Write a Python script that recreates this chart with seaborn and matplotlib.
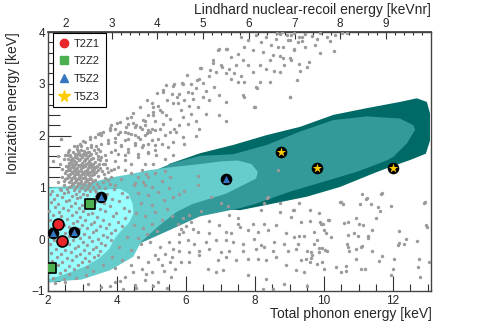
import numpy as np
import pandas as pd
import matplotlib
matplotlib.use("Agg")
import matplotlib.pyplot as plt
import seaborn as sns
from matplotlib.ticker import MultipleLocator
from matplotlib.lines import Line2D

# ---------------- values ----------------
# (total phonon energy [keV], ionization energy [keV])

# signal-model bands, outermost first
band_dark = [(5.5, 1.45), (6.41, 1.66), (7.37, 1.82), (8.34, 2.01), (9.31, 2.17), (10.27, 2.4),
             (11.24, 2.53), (12.2, 2.65), (12.69, 2.72), (12.98, 2.65), (13.07, 2.43), (13.07, 1.9),
             (12.95, 1.65), (12.5, 1.53), (11.82, 1.37), (11.43, 1.27), (10.47, 1.01), (9.5, 0.82),
             (8.54, 0.69), (7.57, 0.56), (6.5, 0.6), (5.5, 1.0)]
band_mid = [(4.67, -0.08), (5.44, 0.15), (6.4, 0.44), (7.57, 0.6), (8.05, 0.69), (9.02, 0.92),
            (9.99, 1.11), (10.95, 1.30), (11.82, 1.52), (12.01, 1.59), (12.4, 1.85), (12.64, 2.11),
            (12.59, 2.2), (12.2, 2.33), (11.24, 2.37), (10.27, 2.3), (9.31, 2.08), (8.34, 1.82),
            (7.37, 1.64), (6.41, 1.61), (5.6, 1.47), (5.0, 1.3), (4.6, 1.0)]
band_light = [(2.0, 1.0), (2.6, 1.02), (3.2, 1.08), (3.74, 1.18), (4.42, 1.26), (4.9, 1.33),
              (5.44, 1.38), (6.4, 1.45), (7.0, 1.5), (7.5, 1.52), (7.9, 1.45), (8.08, 1.3),
              (8.03, 1.17), (7.64, 1.04), (7.16, 0.88), (6.68, 0.78), (6.19, 0.68), (5.71, 0.52),
              (5.2, 0.25), (4.7, -0.05), (4.47, -0.34), (3.8, -0.6), (2.97, -0.78), (2.54, -0.8),
              (2.0, -0.84)]
band_core = [(2.0, 0.98), (2.73, 0.97), (3.22, 0.93), (3.7, 0.96), (4.09, 0.97), (4.33, 0.88),
             (4.45, 0.69), (4.48, 0.5), (4.35, 0.32), (4.1, 0.15), (3.94, 0.02), (3.78, -0.18),
             (3.5, -0.36), (3.1, -0.52), (2.6, -0.65), (2.2, -0.74), (2.0, -0.78)]

# electron-recoil band events
er_band = [(5.43, 2.97), (5.65, 3.00), (5.33, 2.84), (5.60, 2.81), (5.62, 2.62), (5.19, 2.57),
           (5.00, 2.62), (5.04, 2.46), (5.29, 2.46), (5.43, 2.39), (5.53, 2.33), (4.90, 2.39),
           (4.80, 2.29), (5.09, 2.28), (5.33, 2.23), (5.24, 2.13), (5.00, 2.13), (4.71, 2.13),
           (4.56, 2.20), (4.42, 2.36), (4.32, 2.23), (4.22, 2.07), (4.08, 2.07), (3.93, 2.13),
           (3.79, 2.10), (3.59, 2.07), (3.45, 2.04), (3.35, 1.97), (3.21, 1.94), (3.06, 1.88),
           (2.92, 1.84), (2.39, 1.93), (4.32, 1.94), (4.51, 2.01), (4.66, 1.94), (4.80, 2.01),
           (4.95, 2.07), (5.19, 1.94), (5.38, 2.01), (5.53, 2.07), (5.65, 2.13), (5.62, 1.88),
           (5.48, 1.78), (5.29, 1.84), (5.09, 1.81), (4.90, 1.84), (4.71, 1.78), (4.51, 1.81),
           (4.32, 1.75), (4.13, 1.81), (3.93, 1.88), (3.74, 1.91), (3.55, 1.84), (3.45, 1.75),
           (3.26, 1.78), (3.16, 1.68), (2.97, 1.72), (2.87, 1.65), (2.77, 1.59), (2.68, 1.52),
           (2.58, 1.68), (4.61, 1.65), (4.90, 1.68), (5.14, 1.62), (5.38, 1.55), (5.62, 1.62),
           (4.22, 1.62), (4.03, 1.65), (3.84, 1.68), (3.64, 1.62), (3.45, 1.55),
           (3.84, 2.20), (4.08, 2.27), (4.27, 2.17), (4.46, 2.24), (4.80, 2.20), (4.90, 2.11),
           (5.09, 2.11), (4.42, 2.04), (4.61, 1.98), (4.03, 2.04), (3.93, 1.95), (4.22, 1.91),
           (4.51, 1.85), (4.75, 1.82), (5.00, 1.91), (5.09, 1.72), (4.90, 1.66), (4.61, 1.59),
           (4.32, 1.69), (4.13, 1.79), (3.93, 1.72), (3.74, 1.85), (3.55, 2.01), (4.22, 1.53),
           (4.42, 1.46), (4.80, 1.46), (5.04, 1.46), (3.93, 1.50),
           (7.59, 3.90), (7.79, 3.84), (8.03, 3.95), (8.17, 3.81), (8.32, 3.90), (8.46, 3.74),
           (8.61, 3.87), (8.71, 3.97), (8.80, 3.71), (8.95, 3.84), (9.04, 3.94), (9.14, 3.68),
           (9.24, 3.81), (9.36, 3.90), (7.93, 3.65), (8.22, 3.61), (8.51, 3.55), (8.80, 3.49),
           (9.04, 3.45), (9.28, 3.39), (7.69, 3.71),
           (6.97, 3.68), (7.16, 3.68), (6.77, 3.45), (6.43, 3.30), (7.30, 3.52), (7.50, 3.58),
           (7.64, 3.45), (7.79, 3.36), (7.45, 3.36), (7.26, 3.29), (7.40, 3.20), (7.59, 3.16),
           (7.30, 3.10), (7.50, 3.03), (7.69, 3.03), (7.16, 3.20), (7.01, 3.36), (6.87, 3.23),
           (7.93, 3.23), (8.13, 3.36), (8.32, 3.29), (8.71, 3.23), (8.42, 3.03), (8.03, 2.94),
           (7.64, 2.78), (9.00, 2.75), (7.98, 2.55), (7.16, 2.65), (6.97, 2.78), (6.68, 3.16),
           (6.39, 3.10), (6.14, 3.00), (5.90, 3.00), (6.58, 2.87), (6.82, 2.94), (6.29, 2.91),
           (6.05, 2.84), (5.81, 2.81), (6.48, 2.75), (6.68, 2.68), (6.19, 2.71), (5.95, 2.68),
           (5.76, 2.62), (6.10, 2.58), (6.34, 2.55), (5.85, 2.49), (6.14, 2.42), (6.58, 2.42),
           (6.97, 2.39), (7.16, 2.28), (5.90, 2.36), (6.29, 2.29), (6.05, 2.23), (5.81, 2.20),
           (6.39, 2.13), (5.90, 1.97), (6.29, 2.00), (5.95, 1.84), (5.71, 2.07),
           (8.63, 3.98), (8.78, 4.00), (8.92, 3.94), (9.12, 3.98), (9.26, 3.91), (9.45, 3.96),
           (9.65, 3.92), (9.89, 3.98), (10.08, 3.90), (10.32, 3.94), (10.52, 3.98), (10.66, 3.99),
           (9.02, 3.85), (9.36, 3.82), (9.79, 3.86), (10.18, 3.82), (10.28, 3.64), (9.55, 3.43),
           (9.31, 3.24), (9.50, 3.33), (9.21, 3.08), (8.54, 3.24), (8.15, 3.04), (8.05, 2.91),
           (8.83, 3.37), (9.02, 2.75), (8.00, 2.56), (7.67, 2.75), (8.68, 3.72), (9.12, 3.65),
           (9.45, 3.72), (9.74, 3.75), (8.73, 3.53), (8.44, 3.46), (9.02, 3.49), (9.89, 3.59),
           (2.38, 1.93), (2.64, 1.63), (2.83, 1.79), (3.02, 1.89), (3.22, 1.98), (3.51, 2.05),
           (3.80, 2.14), (3.99, 2.24), (4.28, 2.34), (4.47, 2.43), (4.67, 2.56), (4.86, 2.69),
           (5.05, 2.56), (5.15, 2.82), (5.34, 2.88), (5.63, 2.95), (6.94, 3.65), (7.18, 3.67),
           (6.79, 3.40), (6.40, 3.30), (6.69, 3.27), (7.03, 3.33), (6.02, 3.17), (6.31, 3.08),
           (5.87, 3.01), (5.44, 2.69), (5.73, 2.75), (6.50, 3.01), (6.16, 2.82), (5.25, 2.50),
           (5.05, 2.40), (4.76, 2.30), (4.52, 2.17), (4.33, 2.05), (4.67, 2.17), (4.86, 2.05)]

# dense low-energy cluster
er_clump = [(2.95, 1.80), (3.12, 1.77), (3.24, 1.82), (2.84, 1.74), (3.03, 1.71), (3.18, 1.69),
            (3.33, 1.73), (2.72, 1.68), (2.91, 1.66), (3.08, 1.63), (3.22, 1.62), (3.39, 1.66),
            (2.65, 1.61), (2.80, 1.60), (2.98, 1.58), (3.14, 1.56), (3.29, 1.57), (3.46, 1.60),
            (2.58, 1.55), (2.73, 1.53), (2.89, 1.52), (3.04, 1.50), (3.20, 1.51), (3.36, 1.49),
            (3.52, 1.53), (2.62, 1.47), (2.78, 1.46), (2.94, 1.44), (3.10, 1.45), (3.26, 1.43),
            (3.42, 1.42), (3.60, 1.46), (2.53, 1.41), (2.69, 1.40), (2.85, 1.38), (3.01, 1.39),
            (3.17, 1.37), (3.33, 1.36), (3.50, 1.37), (2.57, 1.34), (2.74, 1.33), (2.90, 1.31),
            (3.06, 1.32), (3.22, 1.30), (3.38, 1.29), (3.56, 1.31), (2.49, 1.27), (2.64, 1.26),
            (2.80, 1.25), (2.96, 1.24), (3.12, 1.25), (3.28, 1.23), (3.45, 1.22), (2.55, 1.19),
            (2.70, 1.18), (2.86, 1.17), (3.02, 1.18), (3.18, 1.16), (3.35, 1.15), (2.46, 1.12),
            (2.61, 1.11), (2.77, 1.10), (2.93, 1.09), (3.08, 1.10), (3.24, 1.08), (3.41, 1.07),
            (2.67, 1.03), (2.83, 1.02), (2.99, 1.01), (3.15, 1.02), (3.31, 1.00), (2.55, 0.97),
            (2.74, 0.95), (2.90, 0.94), (3.06, 0.95), (3.22, 0.93), (2.82, 0.88), (3.00, 0.87),
            (2.88, 1.70), (3.00, 1.65), (3.15, 1.60), (2.70, 1.57), (2.85, 1.56), (3.06, 1.54),
            (3.24, 1.54), (2.66, 1.50), (2.82, 1.49), (2.98, 1.47), (3.15, 1.48), (3.31, 1.46),
            (2.60, 1.43), (2.76, 1.42), (2.92, 1.41), (3.08, 1.42), (3.24, 1.40), (3.40, 1.39),
            (2.62, 1.37), (2.79, 1.36), (2.95, 1.35), (3.12, 1.34), (3.28, 1.33), (2.53, 1.31),
            (2.69, 1.30), (2.85, 1.28), (3.01, 1.28), (3.17, 1.27), (3.34, 1.26), (2.59, 1.23),
            (2.75, 1.22), (2.91, 1.21), (3.07, 1.21), (3.23, 1.19), (2.50, 1.16), (2.66, 1.15),
            (2.82, 1.14), (2.97, 1.13), (3.13, 1.13), (3.29, 1.12), (2.72, 1.06), (2.88, 1.06),
            (3.04, 1.05), (3.20, 1.05), (2.60, 1.00), (2.78, 0.99), (2.95, 0.98), (3.12, 0.98),
            (2.40, 1.20), (2.42, 1.35), (2.45, 1.05), (2.38, 0.95), (3.62, 1.25), (3.70, 1.38),
            (3.66, 1.18), (3.75, 1.30), (3.58, 1.10), (3.48, 1.00), (3.40, 0.92), (3.55, 1.58),
            (3.68, 1.52), (2.50, 1.62), (2.60, 1.72), (2.75, 1.80), (3.40, 1.80), (3.50, 1.70),
            (3.82, 1.20), (3.90, 1.35), (2.35, 1.45), (3.80, 1.06), (3.65, 0.98), (2.30, 1.10),
            (3.64, 1.46), (3.84, 1.33), (4.03, 1.40), (4.22, 1.33), (4.42, 1.27), (4.71, 1.33),
            (4.90, 1.21), (5.09, 1.27), (4.13, 1.17), (4.51, 1.08), (4.80, 1.05), (3.74, 1.14),
            (3.93, 1.05), (2.15, 1.50), (2.30, 1.60), (2.45, 1.55), (2.55, 1.62),
            (2.78, 1.64), (2.94, 1.62), (3.10, 1.67), (3.26, 1.65), (2.70, 1.45), (2.86, 1.44),
            (3.02, 1.43), (3.18, 1.41), (3.34, 1.40), (2.65, 1.33), (2.82, 1.32), (2.98, 1.30),
            (3.14, 1.29), (3.30, 1.29), (2.62, 1.20), (2.78, 1.19), (2.94, 1.18), (3.10, 1.17),
            (3.26, 1.16), (2.70, 1.08), (2.86, 1.08), (3.02, 1.07), (3.18, 1.09), (2.92, 1.54),
            (3.08, 1.52), (2.76, 1.51), (3.22, 1.47), (2.88, 1.26), (3.04, 1.25), (3.20, 1.23),
            (2.72, 1.27), (2.58, 1.40), (3.45, 1.33), (3.47, 1.46)]

# events at low ionization yield (inside and below the signal region)
low_yield = [(2.12, 0.93), (2.35, 0.96), (2.58, 0.91), (3.35, 0.95), (3.55, 0.90), (3.92, 0.97),
             (2.05, 0.87), (2.27, 0.85), (2.47, 0.89), (2.70, 0.84), (2.93, 0.82), (3.14, 0.86),
             (3.38, 0.84), (3.70, 0.88), (4.15, 0.90), (2.18, 0.78), (2.40, 0.81), (2.62, 0.76),
             (2.85, 0.79), (3.08, 0.75), (3.45, 0.80), (3.85, 0.77), (4.30, 0.82), (2.08, 0.71),
             (2.30, 0.68), (2.52, 0.73), (2.77, 0.70), (2.99, 0.66), (3.36, 0.71), (3.62, 0.69),
             (4.05, 0.74), (2.20, 0.62), (2.44, 0.60), (2.66, 0.65), (2.90, 0.61), (3.12, 0.63),
             (3.50, 0.58), (3.79, 0.64), (4.20, 0.60), (2.03, 0.55), (2.33, 0.53), (2.58, 0.57),
             (2.80, 0.52), (3.00, 0.55), (3.28, 0.50), (3.66, 0.54), (3.98, 0.51), (4.35, 0.55),
             (2.15, 0.47), (2.39, 0.44), (2.70, 0.46), (2.94, 0.43), (3.17, 0.48), (3.42, 0.42),
             (3.88, 0.45), (4.24, 0.40), (2.07, 0.38), (2.28, 0.36), (2.55, 0.39), (2.84, 0.35),
             (3.07, 0.37), (3.33, 0.33), (3.60, 0.38), (4.02, 0.34), (2.20, 0.30), (2.47, 0.28),
             (2.73, 0.31), (2.98, 0.27), (3.25, 0.29), (3.50, 0.25), (3.77, 0.30), (4.15, 0.26),
             (2.10, 0.22), (2.35, 0.20), (2.62, 0.23), (2.90, 0.19), (3.14, 0.21), (3.40, 0.17),
             (3.68, 0.22), (3.95, 0.18), (2.25, 0.14), (2.50, 0.12), (2.82, 0.15), (3.05, 0.10),
             (3.30, 0.13), (3.58, 0.09), (3.84, 0.12), (2.04, 0.06), (2.32, 0.04), (2.60, 0.07),
             (2.93, 0.03), (3.20, 0.05), (3.46, 0.01), (3.70, 0.04), (2.17, -0.02), (2.45, -0.04),
             (2.72, -0.01), (3.00, -0.05), (3.27, -0.03), (3.55, -0.07), (3.82, -0.02),
             (2.06, -0.10), (2.35, -0.12), (2.62, -0.09), (2.88, -0.13), (3.12, -0.11),
             (3.40, -0.15), (3.65, -0.12), (2.22, -0.18), (2.50, -0.20), (2.78, -0.17),
             (3.03, -0.21), (3.30, -0.19), (3.52, -0.23), (2.10, -0.26), (2.38, -0.28),
             (2.66, -0.25), (2.92, -0.29), (3.18, -0.27), (3.44, -0.31), (2.25, -0.34),
             (2.55, -0.36), (2.80, -0.33), (3.08, -0.37), (3.33, -0.35), (2.12, -0.42),
             (2.42, -0.44), (2.70, -0.41), (2.98, -0.45), (3.20, -0.43), (2.30, -0.50),
             (2.60, -0.52), (2.88, -0.49), (3.12, -0.53), (2.20, -0.58), (2.48, -0.60),
             (2.76, -0.57), (2.35, -0.66), (2.62, -0.68), (2.05, -0.64), (2.15, -0.74),
             (2.45, -0.76),
             (4.60, 1.20), (4.85, 1.25), (5.10, 1.28), (5.40, 1.32), (4.50, 1.05), (4.75, 1.10),
             (5.00, 1.00), (5.30, 1.12), (5.55, 1.20), (4.62, 0.90), (4.90, 0.85), (5.20, 0.92),
             (5.50, 0.98), (4.70, 0.70), (5.00, 0.66), (5.35, 0.75), (5.62, 0.82), (4.55, 0.50),
             (4.80, 0.45), (5.10, 0.52), (5.45, 0.58), (4.50, 0.28), (4.75, 0.22), (5.02, 0.30),
             (5.30, 0.38), (5.60, 0.45), (4.30, 0.05), (4.60, 0.02), (4.88, 0.10), (5.15, 0.15),
             (4.05, -0.15), (4.40, -0.20), (4.70, -0.10), (3.85, -0.35), (4.15, -0.40),
             (3.60, -0.50), (3.95, -0.55), (3.30, -0.62), (3.10, -0.70), (2.80, -0.75),
             (2.50, -0.82), (2.20, -0.85),
             (3.16, -0.86), (3.55, -0.92), (3.93, -0.83), (4.22, -0.73), (4.46, -0.63),
             (4.71, -0.57), (4.90, -0.44), (5.19, -0.38), (5.38, -0.28), (5.62, -0.18),
             (5.00, -0.63), (5.29, -0.50), (5.53, -0.44), (4.80, -0.79), (4.51, -0.89),
             (5.19, -0.83), (5.57, -0.73), (5.67, -0.57), (4.17, -0.96), (4.95, -0.05),
             (5.25, -0.15), (5.50, -0.05), (4.60, -0.35), (5.10, -0.30), (4.40, -0.50),
             (4.85, -0.68), (5.35, -0.62), (5.60, -0.35), (4.55, -0.95), (5.05, -0.90),
             (5.45, -0.95), (3.80, -0.90), (4.10, -0.80)]

# higher-energy events below the signal region
low_tail = [(5.90, 0.14), (6.34, 0.14), (6.68, 0.11), (6.97, 0.27), (7.16, 0.14), (7.30, 0.11),
            (7.79, 0.17), (8.08, 0.14), (8.37, 0.17), (8.90, 0.11), (9.14, 0.04), (9.24, -0.09),
            (5.81, -0.05), (6.05, -0.02), (6.24, -0.09), (6.58, -0.05), (6.87, -0.02), (7.16, -0.02),
            (7.35, -0.05), (7.64, -0.09), (7.98, 0.01), (8.17, -0.12), (8.56, -0.05), (8.85, -0.09),
            (9.28, 0.07), (5.81, -0.22), (6.10, -0.25), (6.39, -0.22), (6.68, -0.18), (7.01, -0.25),
            (7.26, -0.22), (7.64, -0.22), (8.03, -0.18), (8.27, -0.15), (8.51, -0.22), (8.95, -0.22),
            (9.19, -0.18), (5.85, -0.44), (6.10, -0.44), (6.39, -0.31), (6.92, -0.41), (7.16, -0.34),
            (7.45, -0.41), (7.79, -0.38), (8.08, -0.38), (8.32, -0.41), (8.61, -0.34), (8.90, -0.50),
            (9.33, -0.41), (6.63, -0.57), (6.87, -0.63), (7.06, -0.60), (7.79, -0.70), (8.32, -0.76),
            (8.51, -0.96), (8.85, -0.86), (9.19, -0.60), (8.22, -0.96), (9.43, -0.63),
            (8.66, 1.33), (6.36, 1.22), (6.36, 1.05), (5.95, 0.94), (5.79, 0.88), (6.72, 0.81),
            (7.01, 0.69), (7.21, 0.65), (8.37, 0.81), (8.27, 0.69), (6.43, 0.54), (6.10, 0.46),
            (5.90, 0.40), (5.76, 0.30), (6.14, 0.33), (7.26, 0.46), (6.68, 0.36), (7.50, 0.40),
            (7.50, 0.30), (7.55, 0.24), (7.93, 0.30), (8.17, 0.56), (8.27, 0.30), (8.71, 0.52),
            (8.61, 0.27), (9.09, 0.56), (9.04, 0.43), (9.33, 0.33), (5.85, 0.20), (6.00, 0.25),
            (5.80, 0.10), (6.20, 0.20), (8.34, 0.79), (8.73, 0.69), (9.12, 0.56), (9.26, 0.69),
            (9.60, 0.56), (9.89, 0.34), (10.13, 0.37), (10.47, 0.72), (11.24, 0.79),
            (11.11, 0.88), (11.21, 0.78), (11.66, 0.87), (10.48, 0.72), (10.56, 0.67), (11.04, 0.67),
            (11.35, 0.67), (11.55, 0.62), (11.95, 0.65), (11.62, 0.54), (12.90, 0.69), (9.85, 0.51),
            (9.59, 0.36), (9.90, 0.30), (9.98, 0.30), (10.12, 0.38), (10.58, 0.32), (10.68, 0.34),
            (10.92, 0.41), (11.01, 0.30), (11.14, 0.28), (11.50, 0.41), (11.40, 0.17), (12.17, 0.16),
            (12.95, 0.28), (12.98, 0.23), (9.42, 0.06), (9.71, 0.13), (10.00, 0.17), (10.05, 0.11),
            (10.19, 0.04), (10.68, 0.09), (10.87, 0.11), (10.97, 0.07), (11.26, 0.07), (11.26, 0.02),
            (9.81, -0.02), (9.71, -0.09), (9.85, -0.17), (9.95, -0.17), (10.02, -0.20), (10.10, -0.22),
            (9.52, -0.22), (9.63, -0.25), (9.66, -0.30), (9.85, -0.25), (10.66, -0.09), (10.68, -0.15),
            (10.72, -0.22), (10.92, -0.18), (11.06, -0.15), (11.11, -0.13), (11.40, -0.23),
            (12.13, -0.12), (12.17, -0.07), (12.32, -0.09), (12.37, 0.00), (12.69, -0.04),
            (9.47, -0.39), (9.61, -0.36), (9.59, -0.45), (9.81, -0.47), (9.95, -0.44), (10.00, -0.57),
            (10.34, -0.54), (10.48, -0.63), (10.63, -0.52), (10.63, -0.62), (10.92, -0.39),
            (11.06, -0.58), (11.19, -0.58), (11.59, -0.43), (11.69, -0.33), (12.03, -0.38),
            (12.01, -0.57), (11.95, -0.70), (12.75, -0.39), (12.71, -0.54), (13.04, -0.44),
            (12.78, -0.73), (9.52, -0.90), (12.93, 0.72), (11.68, 0.89)]

# detector candidate events
det_names = ["T2Z1", "T2Z1", "T2Z2", "T2Z2", "T5Z2", "T5Z2", "T5Z2", "T5Z2", "T5Z3", "T5Z3", "T5Z3"]
det_phonon = [2.29, 2.41, 3.23, 2.08, 3.55, 2.75, 2.14, 7.16, 8.74, 9.79, 11.99]
det_ion = [0.29, -0.04, 0.67, -0.56, 0.81, 0.14, 0.12, 1.17, 1.69, 1.38, 1.37]

# phonon keV -> Lindhard nuclear-recoil keVnr (linear over this range)
nr_offset, nr_slope = 0.096, 0.755

def to_nr(e):
    return nr_offset + nr_slope * np.asarray(e)

def to_ph(e):
    return (np.asarray(e) - nr_offset) / nr_slope

# ---------------- plotting ----------------
sns.set_theme(style="white")
plt.rcParams["font.family"] = ["Liberation Sans", "DejaVu Sans"]

bg = pd.DataFrame(er_band + er_clump + low_yield + low_tail, columns=["phonon", "ionization"])
det_df = pd.DataFrame({"detector": det_names, "phonon": det_phonon, "ionization": det_ion})

fig = plt.figure(figsize=(4.79, 3.24), dpi=100)
ax = fig.add_axes([0.1002, 0.1019, 0.7996, 0.7993])

band_colors = ["#006b66", "#339999", "#66cccc", "#99ffff"]
for band, col in zip([band_dark, band_mid, band_light, band_core], band_colors):
    bx, by = zip(*band)
    ax.fill(bx, by, color=col, lw=0, zorder=1)

sns.scatterplot(data=bg, x="phonon", y="ionization", color="#9a9a9a", s=6,
                linewidth=0, ax=ax, zorder=3, legend=False)

# black disks behind the triangle / star events
disk = det_df[det_df["detector"].isin(["T5Z2", "T5Z3"])]
sns.scatterplot(data=disk, x="phonon", y="ionization", color="black", marker="o",
                s=70, linewidth=0, ax=ax, zorder=5, legend=False)

det_style = {
    "T2Z1": dict(color="#e8262b", marker="o", s=62, edgecolor="black", linewidth=1.2),
    "T2Z2": dict(color="#4caf50", marker="s", s=50, edgecolor="black", linewidth=1.2),
    "T5Z2": dict(color="#3476c0", marker="^", s=26, linewidth=0),
    "T5Z3": dict(color="#ffcc00", marker="*", s=48, linewidth=0),
}
for name, grp in det_df.groupby("detector"):
    sns.scatterplot(data=grp, x="phonon", y="ionization", ax=ax, zorder=6,
                    legend=False, **det_style[name])

ax.set_xlim(2, 13.1)
ax.set_ylim(-1, 4)
ax.xaxis.set_major_locator(MultipleLocator(2))
ax.xaxis.set_minor_locator(MultipleLocator(0.5))
ax.yaxis.set_major_locator(MultipleLocator(1))
ax.yaxis.set_minor_locator(MultipleLocator(0.2))

ax.tick_params(axis="x", which="both", direction="in", bottom=True, top=False,
               labelsize=8.5, pad=3, color="#333333", width=0.8)
ax.tick_params(axis="x", which="major", length=11)
ax.tick_params(axis="x", which="minor", length=5)
ax.tick_params(axis="y", which="both", direction="in", left=True, right=False,
               labelsize=8.5, pad=2, color="#333333", width=0.8)
ax.tick_params(axis="y", which="major", length=16.5)
ax.tick_params(axis="y", which="minor", length=8.5)

for sp in ax.spines.values():
    sp.set_visible(True)
    sp.set_color("#444444")
    sp.set_linewidth(1.0)

ax.set_xlabel("Total phonon energy [keV]", fontsize=10, loc="right")
ax.xaxis.set_label_coords(1.003, -0.06)
ax.set_ylabel("Ionization energy [keV]", fontsize=10, loc="top")
ax.yaxis.set_label_coords(-0.073, 1.0)

secax = ax.secondary_xaxis("top", functions=(to_nr, to_ph))
secax.xaxis.set_major_locator(MultipleLocator(1))
secax.xaxis.set_minor_locator(MultipleLocator(0.2))
secax.tick_params(which="both", direction="in", labelsize=8.5, pad=1.5,
                  color="#333333", width=0.8)
secax.tick_params(which="major", length=5)
secax.tick_params(which="minor", length=2.5)
secax.spines["top"].set_color("#444444")
secax.set_xlabel("Lindhard nuclear-recoil energy [keVnr]", fontsize=10, loc="right",
                 labelpad=2.5)

handles = [
    Line2D([], [], ls="", marker="o", color="#e8262b", markersize=6),
    Line2D([], [], ls="", marker="s", color="#4caf50", markersize=5.5),
    Line2D([], [], ls="", marker="^", color="#3476c0", markersize=6),
    Line2D([], [], ls="", marker="*", color="#ffcc00", markersize=8.5),
]
leg = ax.legend(handles, ["T2Z1", "T2Z2", "T5Z2", "T5Z3"], loc="upper left",
                bbox_to_anchor=(0.013, 0.996), borderaxespad=0, fontsize=8,
                frameon=True, fancybox=False, edgecolor="black", framealpha=1,
                handlelength=0.9, handletextpad=0.5, labelspacing=0.7, borderpad=0.5)
leg.get_frame().set_linewidth(0.8)
leg.set_zorder(10)

fig.savefig("out.png", dpi=100)
